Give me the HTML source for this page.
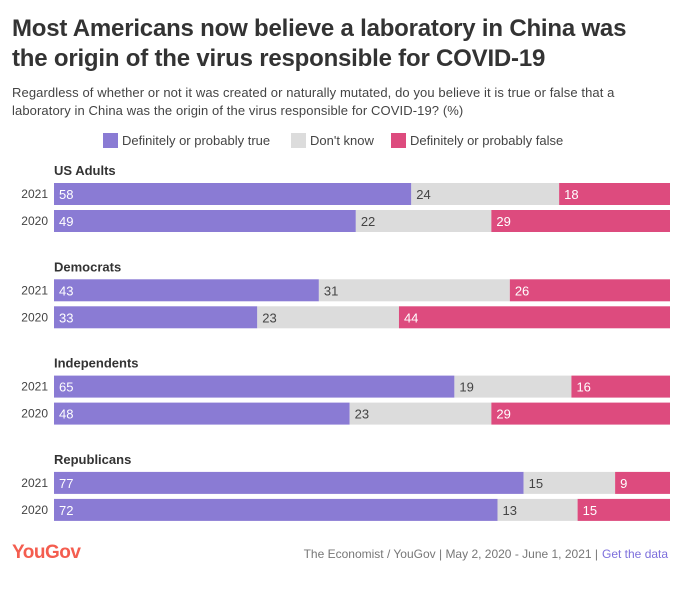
<!DOCTYPE html>
<html><head><meta charset="utf-8"><style>
body{margin:0;background:#fff;font-family:"Liberation Sans",sans-serif;}
#wrap{position:relative;width:689px;height:589px;overflow:hidden;}
h1{position:absolute;left:12px;top:14px;margin:0;font-size:24px;line-height:30px;font-weight:bold;color:#333;width:640px;letter-spacing:-0.2px}
.sub{position:absolute;left:12px;top:84px;font-size:13px;line-height:18px;color:#444;width:630px;letter-spacing:0.1px}
</style></head><body>
<div id="wrap">
<h1>Most Americans now believe a laboratory in China was the origin of the virus responsible for COVID-19</h1>
<div class="sub">Regardless of whether or not it was created or naturally mutated, do you believe it is true or false that a laboratory in China was the origin of the virus responsible for COVID-19? (%)</div>
<svg id="chart" width="689" height="589" style="position:absolute;left:0;top:0"></svg>
</div>
<script>
const groups=["US Adults","Democrats","Independents","Republicans"];
const years=["2021","2020"];
const trueVals=[[58,49],[43,33],[65,48],[77,72]];
const dkVals=[[24,22],[31,23],[19,23],[15,13]];
const falseVals=[[18,29],[26,44],[16,29],[9,15]];
const seriesNames=["Definitely or probably true","Don't know","Definitely or probably false"];
const colors=["#8a7bd4","#dcdcdc","#dd4b7e"];
const svg=document.getElementById('chart');
const NS="http://www.w3.org/2000/svg";
const x0=54,x1=670;
function mk(t,a,txt){const e=document.createElementNS(NS,t);for(const k in a)e.setAttribute(k,a[k]);if(txt!==undefined)e.textContent=txt;svg.appendChild(e);return e;}
const legX=[103,291,391];
seriesNames.forEach((n,i)=>{
 const r=mk('rect',{x:legX[i],y:133,width:15,height:15,fill:colors[i]});
 
 
 const t=mk('text',{x:legX[i]+19,y:145,'font-size':13,fill:'#444'},n);
 
 
});
groups.forEach((g,gi)=>{
 const gy=183+gi*96.3;
 const gl=mk('text',{x:x0,y:gy-8,'font-size':13,'font-weight':'bold',fill:'#333'},g);
 
 
 years.forEach((yr,yi)=>{
  const y=gy+yi*27;
  const yl=mk('text',{x:x0-6,y:y+15,'font-size':12,fill:'#444','text-anchor':'end'},yr);
  
  
  const vals=[trueVals[gi][yi],dkVals[gi][yi],falseVals[gi][yi]];
  const tot=vals[0]+vals[1]+vals[2];
  let cx=x0;
  vals.forEach((v,si)=>{
   const w=v/tot*(x1-x0);
   const r=mk('rect',{x:cx,y:y,width:w,height:22,fill:colors[si]});
   
   
   const t=mk('text',{x:cx+5,y:y+16,'font-size':13,fill:si==1?'#444':'#fff'},v);
   
   
   cx+=w;
  });
 });
});
const lg=mk('text',{x:12,y:558,'font-size':19,fill:'#f45d4f','font-weight':'bold','letter-spacing':'-0.5'},'YouGov');


const src=mk('text',{x:598,y:558,'font-size':12,fill:'#777','text-anchor':'end'},'The Economist / YouGov | May 2, 2020 - June 1, 2021 |');


const gd=mk('text',{x:602,y:558,'font-size':12,fill:'#7d6fdc'},'Get the data');


</script>
</body></html>
